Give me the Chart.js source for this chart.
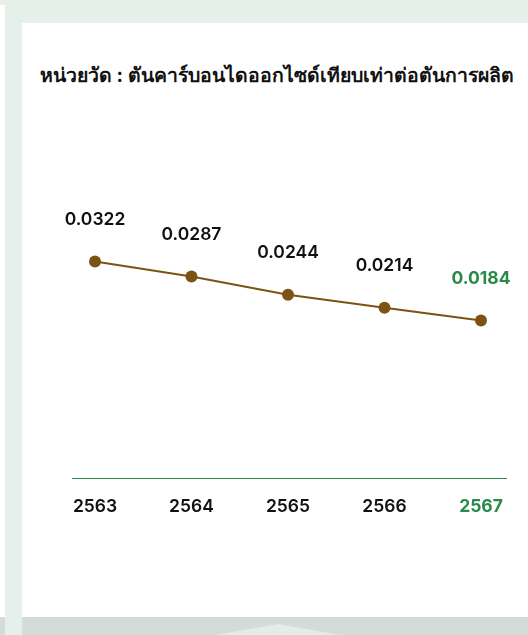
<!DOCTYPE html>
<html>
<head>
<meta charset="utf-8">
<script src="https://cdn.jsdelivr.net/npm/chart.js@4.4.1/dist/chart.umd.min.js"></script>
<style>
  html,body{margin:0;padding:0;}
  body{width:528px;height:635px;background:#e6f0eb;position:relative;overflow:hidden;font-family:Inter,"Liberation Sans","Noto Sans",sans-serif;}
  #strip{position:absolute;left:0;top:5px;width:5px;height:612px;background:#fff;}
  #card{position:absolute;left:22px;top:23px;width:506px;height:594px;background:#fff;}
  #bandL{position:absolute;left:0;top:617px;width:5px;height:18px;background:#d3dcd8;}
  #bandR{position:absolute;left:22px;top:617px;width:506px;height:18px;background:#d3dcd8;}
  #tri{position:absolute;left:215px;top:624px;width:126px;height:11px;background:#e4ece8;clip-path:polygon(0 100%,50% 0,100% 100%);}
  #title{position:absolute;left:40px;top:60px;font-size:19px;font-weight:700;color:#111;white-space:nowrap;}
  #wrap{position:absolute;left:0;top:0;width:528px;height:635px;}
</style>
</head>
<body>
<div id="strip"></div>
<div id="card"></div>
<div id="bandL"></div>
<div id="bandR"></div>
<div id="tri"></div>
<div id="title">หน่วยวัด : ตันคาร์บอนไดออกไซด์เทียบเท่าต่อตันการผลิต</div>
<div id="wrap"><canvas id="c" width="528" height="635"></canvas></div>
<script>
const years = ["2563", "2564", "2565", "2566", "2567"];
const emissions = [0.0322, 0.0287, 0.0244, 0.0214, 0.0184];
const valueLabels = ["0.0322", "0.0287", "0.0244", "0.0214", "0.0184"];

const BROWN = "#7b5414";
const GREEN = "#2a8a4a";
const BLACK = "#111111";
const FONT = "Inter, 'Liberation Sans', sans-serif";

// fit title width to reference (~470px)
(function(){
  const t = document.getElementById("title");
  const w = t.getBoundingClientRect().width;
  if (w > 0) {
    const fs = 19 * 470 / w;
    t.style.fontSize = fs.toFixed(2) + "px";
  }
})();

const labelPlugin = {
  id: "valueLabels",
  afterDatasetsDraw(chart) {
    const ctx = chart.ctx;
    const meta = chart.getDatasetMeta(0);
    ctx.save();
    ctx.textAlign = "center";
    ctx.textBaseline = "middle";
    meta.data.forEach((pt, i) => {
      const last = i === meta.data.length - 1;
      ctx.font = (last ? "700 " : "600 ") + "17.5px " + FONT;
      ctx.fillStyle = last ? GREEN : BLACK;
      ctx.fillText(valueLabels[i], pt.x, pt.y - 42);
    });
    ctx.restore();
  }
};

const axisLinePlugin = {
  id: "axisLine",
  beforeDatasetsDraw(chart) {
    const a = chart.chartArea;
    const ctx = chart.ctx;
    ctx.save();
    ctx.strokeStyle = GREEN;
    ctx.lineWidth = 1.2;
    ctx.beginPath();
    ctx.moveTo(a.left - 23, a.bottom + 0.5);
    ctx.lineTo(a.right + 26, a.bottom + 0.5);
    ctx.stroke();
    ctx.restore();
  }
};

new Chart(document.getElementById("c"), {
  type: "line",
  data: {
    labels: years,
    datasets: [{
      data: emissions,
      borderColor: BROWN,
      backgroundColor: BROWN,
      borderWidth: 2,
      pointRadius: 6,
      pointHoverRadius: 6,
      pointBackgroundColor: BROWN,
      pointBorderWidth: 0,
      tension: 0
    }]
  },
  options: {
    responsive: false,
    animation: false,
    layout: { padding: { left: 95, right: 47, top: 110, bottom: 0 } },
    plugins: { legend: { display: false }, tooltip: { enabled: false } },
    scales: {
      x: {
        type: "category",
        offset: false,
        grid: { display: false },
        border: { display: false },
        ticks: {
          padding: 10,
          font: (c) => ({ family: FONT, size: 17.5, weight: c.index === years.length - 1 ? "700" : "600" }),
          color: (c) => c.index === years.length - 1 ? GREEN : BLACK,
          maxRotation: 0
        },
        afterFit(scale) { scale.height = 157; }
      },
      y: {
        display: false,
        min: -0.0185,
        max: 0.0677
      }
    }
  },
  plugins: [labelPlugin, axisLinePlugin]
});
</script>
</body>
</html>
